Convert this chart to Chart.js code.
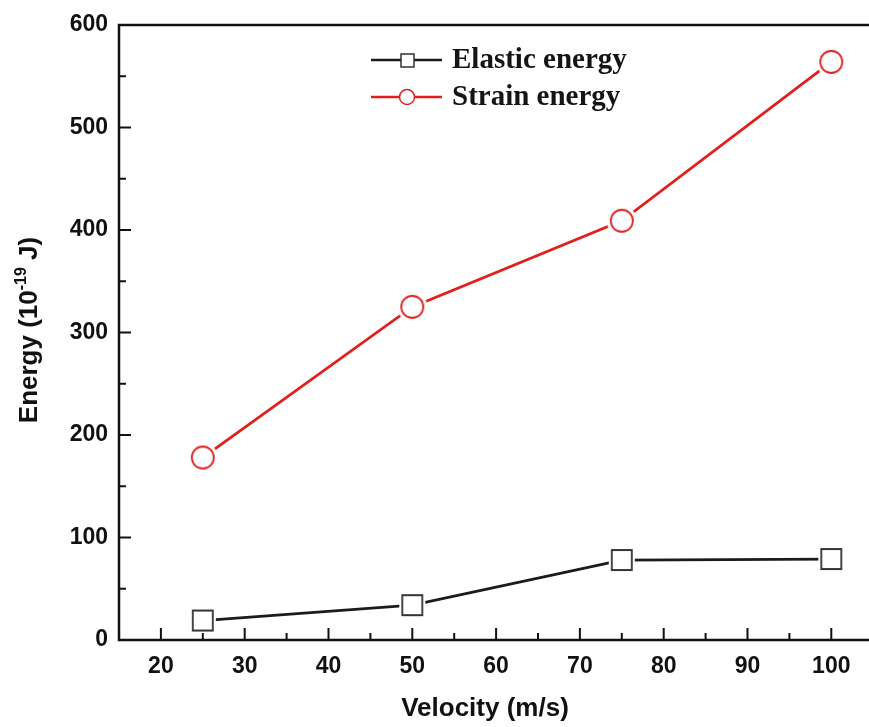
<!DOCTYPE html>
<html>
<head>
<meta charset="utf-8">
<script src="https://cdn.jsdelivr.net/npm/chart.js@4.4.1/dist/chart.umd.min.js"></script>
<style>
  html, body { margin: 0; padding: 0; background: #fff; overflow: hidden; }
  #wrap { width: 869px; height: 727px; }
</style>
</head>
<body>
<div id="wrap"><canvas id="myChart" width="869" height="727"></canvas></div>
<script>
const velocity = [25, 50, 75, 100];
const elasticEnergy = [19, 34, 78, 79];
const strainEnergy = [178, 325, 409, 564];
const xTicks = [20, 30, 40, 50, 60, 70, 80, 90, 100];
const yTicks = [0, 100, 200, 300, 400, 500, 600];
const seriesNames = ["Elastic energy", "Strain energy"];

const BLACK = "#1b1b1b";
const RED = "#e0201c";

// marker with a white halo so the line stops short of it
function makeMarker(shape, color) {
  const c = document.createElement("canvas");
  c.width = 32; c.height = 32;
  const g = c.getContext("2d");
  g.fillStyle = "#fff";
  g.beginPath();
  if (shape === "circle") {
    g.arc(16, 16, 15, 0, Math.PI * 2);
  } else {
    g.rect(3, 3, 26, 26);
  }
  g.fill();
  g.strokeStyle = color;
  g.lineWidth = 1.8;
  g.beginPath();
  if (shape === "circle") {
    g.arc(16, 16, 11, 0, Math.PI * 2);
  } else {
    g.rect(6, 6, 20, 20);
  }
  g.stroke();
  return c;
}

const framePlugin = {
  id: "frame",
  afterDraw(chart) {
    const ctx = chart.ctx;
    const a = chart.chartArea;
    const xs = chart.scales.x;
    const ys = chart.scales.y;
    ctx.save();
    ctx.strokeStyle = "#111";
    ctx.lineWidth = 2.5;
    ctx.beginPath();
    ctx.moveTo(chart.width, a.top);
    ctx.lineTo(a.left, a.top);
    ctx.lineTo(a.left, a.bottom);
    ctx.lineTo(chart.width, a.bottom);
    ctx.stroke();

    // inward ticks, major and minor
    ctx.lineWidth = 2;
    ctx.beginPath();
    for (let v = 20; v <= 100; v += 5) {
      const px = xs.getPixelForValue(v);
      const len = v % 10 === 0 ? 12 : 7;
      ctx.moveTo(px, a.bottom);
      ctx.lineTo(px, a.bottom - len);
    }
    for (let v = 0; v <= 600; v += 50) {
      const py = ys.getPixelForValue(v);
      const len = v % 100 === 0 ? 12 : 7;
      ctx.moveTo(a.left, py);
      ctx.lineTo(a.left + len, py);
    }
    ctx.stroke();

    // axis titles
    ctx.fillStyle = "#111";
    ctx.font = "bold 26px 'Liberation Sans', Arial, sans-serif";
    ctx.textAlign = "center";
    ctx.textBaseline = "alphabetic";
    ctx.fillText("Velocity (m/s)", 485, 716);

    ctx.save();
    ctx.translate(37, 330);
    ctx.rotate(-Math.PI / 2);
    const big = "bold 26px 'Liberation Sans', Arial, sans-serif";
    const small = "bold 16px 'Liberation Sans', Arial, sans-serif";
    const p1 = "Energy (10", p2 = "-19", p3 = " J)";
    ctx.font = big; const w1 = ctx.measureText(p1).width; const w3 = ctx.measureText(p3).width;
    ctx.font = small; const w2 = ctx.measureText(p2).width;
    let x0 = -(w1 + w2 + w3) / 2;
    ctx.textAlign = "left";
    ctx.font = big; ctx.fillText(p1, x0, 0);
    ctx.font = small; ctx.fillText(p2, x0 + w1, -11);
    ctx.font = big; ctx.fillText(p3, x0 + w1 + w2, 0);
    ctx.restore();

    // legend
    const rows = [
      { y: 60, color: BLACK, shape: "rect", text: seriesNames[0] },
      { y: 97, color: RED, shape: "circle", text: seriesNames[1] }
    ];
    rows.forEach(r => {
      ctx.strokeStyle = r.color;
      ctx.lineWidth = 2.5;
      ctx.beginPath();
      ctx.moveTo(371, r.y); ctx.lineTo(442, r.y);
      ctx.stroke();
      ctx.fillStyle = "#fff";
      ctx.lineWidth = 1.5;
      ctx.strokeStyle = r.shape === "rect" ? "#333" : r.color;
      ctx.beginPath();
      if (r.shape === "rect") ctx.rect(401, r.y - 6, 13, 13);
      else ctx.arc(407, r.y, 7.5, 0, Math.PI * 2);
      ctx.fill(); ctx.stroke();
      ctx.fillStyle = "#151515";
      ctx.font = "bold 29px 'Liberation Serif', 'Times New Roman', serif";
      ctx.textAlign = "left";
      ctx.textBaseline = "middle";
      ctx.fillText(r.text, 452, r.y + 1);
    });
    ctx.restore();
  }
};

const ctx = document.getElementById("myChart").getContext("2d");
const chart = new Chart(ctx, {
  type: "line",
  data: {
    datasets: [
      {
        label: seriesNames[0],
        data: velocity.map((v, i) => ({ x: v, y: elasticEnergy[i] })),
        borderColor: BLACK,
        borderWidth: 2.8,
        pointStyle: makeMarker("rect", "#333"),
        pointRadius: 12,
        tension: 0
      },
      {
        label: seriesNames[1],
        data: velocity.map((v, i) => ({ x: v, y: strainEnergy[i] })),
        borderColor: RED,
        borderWidth: 2.8,
        pointStyle: makeMarker("circle", RED),
        pointRadius: 12,
        tension: 0
      }
    ]
  },
  options: {
    responsive: false,
    animation: false,
    devicePixelRatio: 1,
    layout: { autoPadding: false, padding: { top: 25, right: 0, left: 0, bottom: 0 } },
    plugins: { legend: { display: false }, tooltip: { enabled: false } },
    scales: {
      x: {
        type: "linear",
        min: 15,
        max: 104.5,
        grid: { display: false, drawTicks: false },
        border: { display: false },
        afterBuildTicks: s => { s.ticks = xTicks.map(v => ({ value: v })); },
        afterFit: s => { s.height = 87; s.paddingLeft = 0; s.paddingRight = 0; },
        ticks: {
          padding: 13,
          color: "#111",
          maxRotation: 0,
          font: { family: "'Liberation Sans', Arial, sans-serif", size: 23, weight: "bold" }
        }
      },
      y: {
        min: 0,
        max: 600,
        grid: { display: false, drawTicks: false },
        border: { display: false },
        afterBuildTicks: s => { s.ticks = yTicks.map(v => ({ value: v })); },
        afterFit: s => { s.width = 119; },
        ticks: {
          padding: 11,
          color: "#111",
          font: { family: "'Liberation Sans', Arial, sans-serif", size: 23, weight: "bold" }
        }
      }
    }
  },
  plugins: [framePlugin]
});
</script>
</body>
</html>
